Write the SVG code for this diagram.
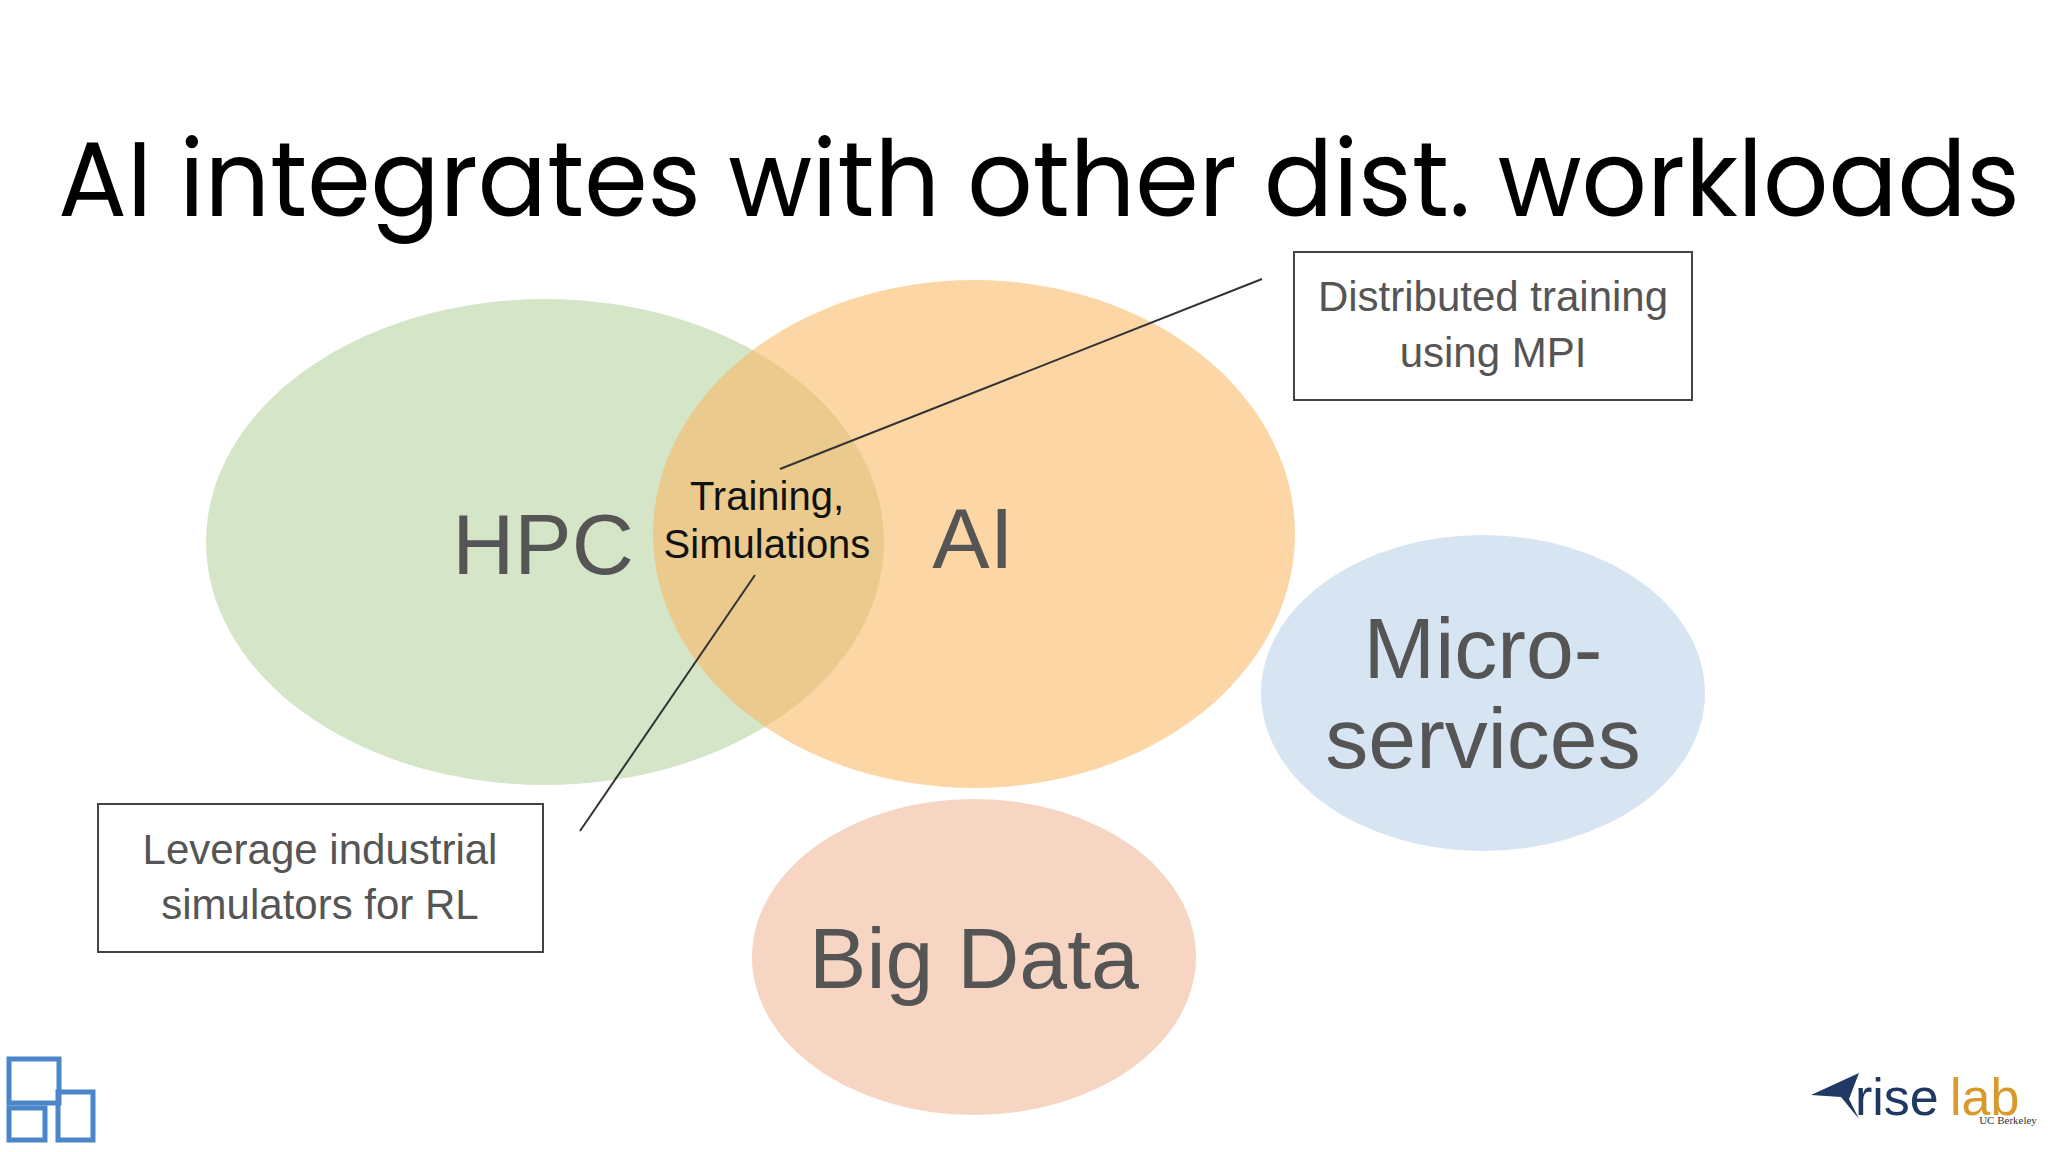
<svg xmlns="http://www.w3.org/2000/svg" width="2048" height="1152" viewBox="0 0 2048 1152">
<style>
.t{font-family:"Liberation Sans",Arial,sans-serif;fill:#555;text-anchor:middle}
.b{font-size:86px}.c{font-size:42px}
.box{fill:#fff;stroke:#444;stroke-width:2}
.ln{stroke:#333;stroke-width:2;fill:none}
</style>
<rect width="2048" height="1152" fill="#fff"/>
<text x="1039" y="216" font-family="Poppins,Inter,'Open Sans',sans-serif" font-size="106" text-anchor="middle" fill="#000" textLength="1962" lengthAdjust="spacingAndGlyphs">AI integrates with other dist. workloads</text>
<g id="hpc"><ellipse cx="545" cy="542" rx="339" ry="243" fill="#d5e5c7"/><text class="t b" x="543" y="574">HPC</text></g>
<g id="ai"><ellipse cx="769" cy="534" rx="0" ry="0"/><ellipse cx="974" cy="534" rx="321" ry="254" fill="#fbb45c" fill-opacity=".55"/><text class="t b" x="973" y="568">AI</text></g>
<g id="overlap"><text x="767" y="510" font-family="'Liberation Sans',sans-serif" font-size="40" text-anchor="middle" fill="#111">Training,</text><text x="767" y="558" font-family="'Liberation Sans',sans-serif" font-size="40" text-anchor="middle" fill="#111">Simulations</text></g>
<g id="micro"><ellipse cx="1483" cy="693" rx="222" ry="158" fill="#d7e5f3"/><text class="t b" x="1483" y="678" font-size="76">Micro-</text><text class="t b" x="1483" y="768">services</text></g>
<g id="bigdata"><ellipse cx="974" cy="957" rx="222" ry="158" fill="#f6d5c3"/><text class="t b" x="974" y="988">Big Data</text></g>
<g id="connectors"><line class="ln" x1="780" y1="469" x2="1262" y2="279"/><line class="ln" x1="755" y1="575" x2="580" y2="831"/></g>
<g id="box1"><rect class="box" x="1294" y="252" width="398" height="148"/><text class="t c" x="1493" y="311">Distributed training</text><text class="t c" x="1493" y="367">using MPI</text></g>
<g id="box2"><rect class="box" x="98" y="804" width="445" height="148"/><text class="t c" x="320" y="864">Leverage industrial</text><text class="t c" x="320" y="919">simulators for RL</text></g>
<g id="logo-left" fill="none" stroke="#4a86c8" stroke-width="5"><rect x="9" y="1059" width="50" height="44"/><rect x="9" y="1108" width="36" height="32"/><rect x="58" y="1092" width="35" height="48"/></g>
<g id="logo-right"><path d="M1811 1095l48-22-10 26 10 20-18-22z" fill="#1f3864"/><text x="1855" y="1115" font-family="'Liberation Sans',sans-serif" font-size="52" fill="#1f3864">rise</text><text x="1950" y="1115" font-family="'Liberation Sans',sans-serif" font-size="52" fill="#d99a2b">lab</text><text x="2008" y="1124" font-family="'Liberation Serif',serif" font-size="11" text-anchor="middle" fill="#333">UC Berkeley</text></g>
</svg>
